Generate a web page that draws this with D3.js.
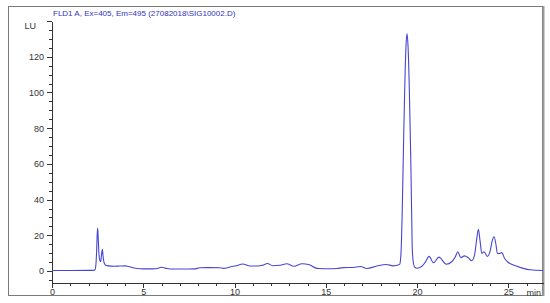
<!DOCTYPE html>
<html>
<head>
<meta charset="utf-8">
<script src="https://cdn.jsdelivr.net/npm/d3@7"></script>
<style>
  body { margin: 0; background: #fff; }
  svg { display: block; font-family: Arial, "Liberation Sans", sans-serif; }
  .axis path, .axis line { stroke: #333; shape-rendering: crispEdges; }
  .axis text { fill: #333; font-size: 9px; }
</style>
</head>
<body>
<div id="chart"></div>
<script>
// chromatogram: retention time (min) and signal (LU)
var times = [0, 1.0, 2.0, 2.34, 2.40, 2.44, 2.47, 2.50, 2.53, 2.57, 2.62, 2.67, 2.71, 2.76, 2.80, 2.86, 2.94,
  3.1, 3.4, 3.7, 4.0, 4.2, 4.5, 4.8, 5.3, 5.7, 6.0, 6.3, 6.6, 7.2, 7.8, 8.1, 8.6, 9.2, 9.4, 9.8,
  10.1, 10.45, 10.85, 11.3, 11.55, 11.8, 12.1, 12.5, 12.86, 13.25, 13.7, 14.1, 14.4, 14.6, 15.2, 15.6,
  15.95, 16.5, 16.9, 17.25, 17.8, 18.3, 18.7, 19.0, 19.05, 19.12, 19.18, 19.25, 19.32, 19.39, 19.45,
  19.51, 19.58, 19.65, 19.70, 19.74, 19.80, 19.88, 20.0, 20.25, 20.45, 20.66, 20.9, 21.2, 21.6, 21.9,
  22.1, 22.23, 22.4, 22.6, 22.8, 23.0, 23.15, 23.27, 23.36, 23.45, 23.55, 23.67, 23.85, 24.0, 24.12,
  24.22, 24.32, 24.40, 24.52, 24.64, 24.80, 24.95, 25.28, 25.5, 25.82, 26.19, 26.9];
var signal = [0.3, 0.3, 0.35, 0.5, 3, 10, 19, 24, 19, 10, 6, 5.2, 9, 12.2, 8, 4.5, 3.3,
  2.9, 2.7, 2.8, 2.9, 2.5, 1.7, 1.3, 1.2, 1.3, 2.1, 1.4, 1.1, 1.1, 1.2, 1.8, 1.9, 1.8, 1.5, 2.4,
  3.0, 3.9, 2.8, 2.8, 3.3, 4.2, 3.0, 3.2, 4.1, 2.7, 4.1, 3.5, 1.9, 1.4, 1.3, 1.4,
  1.9, 2.0, 2.5, 1.4, 2.8, 3.7, 2.9, 3.5, 3.8, 10, 30, 66, 100, 125, 133,
  125, 100, 66, 35, 12, 4.5, 2.0, 1.6, 2.5, 5, 8.2, 4.6, 7.8, 3.8, 5.2,
  8, 10.8, 7.5, 8.5, 7.5, 5.8, 9, 18, 23.4, 17, 9.9, 10.8, 8.2, 11, 17,
  19.2, 15, 9.9, 9.8, 10.3, 7, 5.2, 3.4, 2.6, 1.5, 0.7, 0.3];

var xMajor = [0, 5, 10, 15, 20, 25];
var xMinor = d3.range(0, 27, 1);
var yMajor = [0, 20, 40, 60, 80, 100, 120, 140];
var yMinor = d3.range(-5, 141, 5);
var title = "FLD1 A, Ex=405, Em=495 (27082018\\SIG10002.D)";

var W = 550, H = 303;
var svg = d3.select("#chart").append("svg").attr("width", W).attr("height", H);

// outer frame
svg.append("rect").attr("x", 8.5).attr("y", 6.5).attr("width", 534).attr("height", 289)
  .attr("fill", "none").attr("stroke", "#7a7a7a").attr("stroke-width", 1);
svg.append("line").attr("x1", 543.5).attr("x2", 543.5).attr("y1", 6).attr("y2", 296)
  .attr("stroke", "#9a9a9a").attr("stroke-width", 2);

var x = d3.scaleLinear().domain([0, 26.9]).range([52, 543]);
var y = d3.scaleLinear().domain([-6.7, 140]).range([283, 21]);

// x axis
svg.append("g").attr("class", "axis").attr("transform", "translate(0,283)")
  .call(d3.axisBottom(x).tickValues(xMinor).tickSize(3).tickFormat("").tickSizeOuter(0))
  .select(".domain").remove();
svg.append("g").attr("class", "axis").attr("transform", "translate(0,283)")
  .call(d3.axisBottom(x).tickValues(xMajor).tickSize(5).tickPadding(1).tickFormat(d3.format("d")).tickSizeOuter(0));

svg.append("text").attr("x", 541).attr("y", 296).attr("text-anchor", "end")
  .attr("font-size", "9px").attr("fill", "#333").text("min");

// y axis
svg.append("g").attr("class", "axis").attr("transform", "translate(52,0)")
  .call(d3.axisLeft(y).tickValues(yMinor).tickSize(3).tickFormat("").tickSizeOuter(0))
  .select(".domain").remove();
svg.append("g").attr("class", "axis").attr("transform", "translate(52,0)")
  .call(d3.axisLeft(y).tickValues(yMajor).tickSize(5).tickPadding(3)
    .tickFormat(function(d) { return d == 140 ? "" : d; }).tickSizeOuter(0));

svg.append("text").attr("x", 36).attr("y", 29).attr("text-anchor", "end")
  .attr("font-size", "9px").attr("fill", "#333").text("LU");

// title
svg.append("text").attr("x", 53).attr("y", 16).attr("font-size", "8px")
  .attr("fill", "#3030c8").text(title);

// signal trace
var pts = times.map(function(t, i) { return [t, signal[i]]; });
var line = d3.line()
  .x(function(d) { return x(d[0]); })
  .y(function(d) { return y(d[1]); })
  .curve(d3.curveMonotoneX);

svg.append("path").datum(pts)
  .attr("d", line)
  .attr("fill", "none")
  .attr("stroke", "#4646d2")
  .attr("stroke-width", 1.1);
</script>
</body>
</html>
